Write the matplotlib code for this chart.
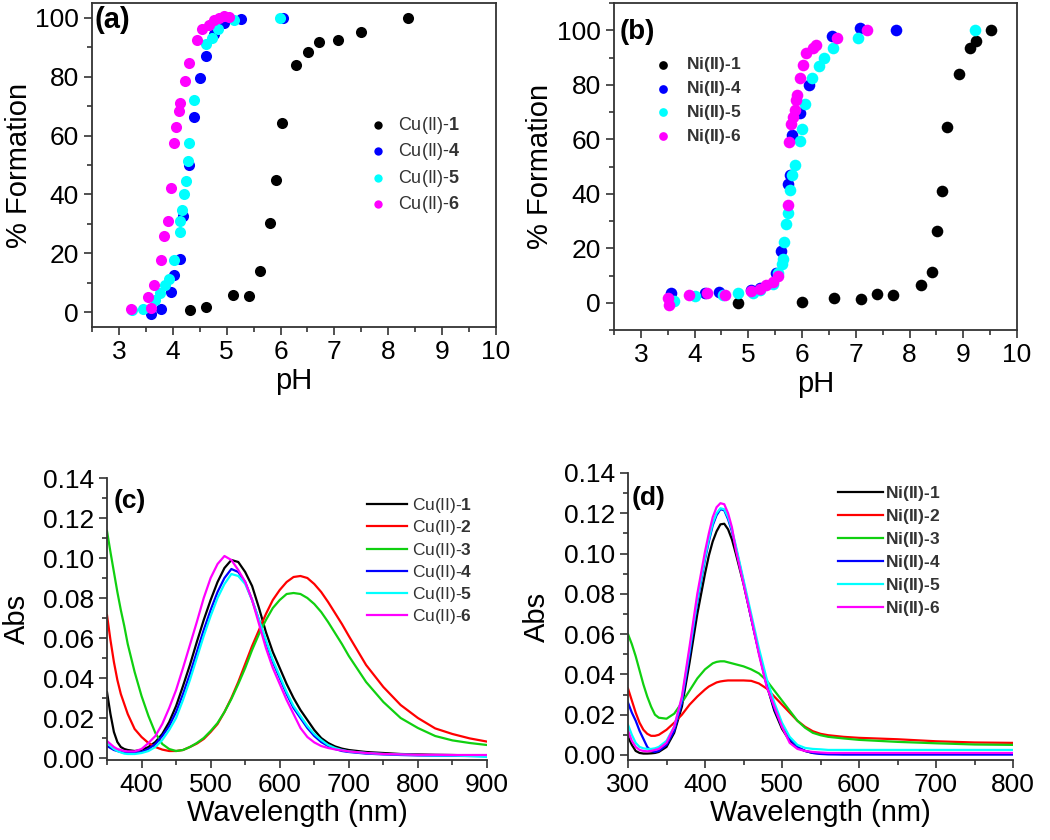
import numpy as np
import matplotlib
matplotlib.use("Agg")
import matplotlib.pyplot as plt
from matplotlib.ticker import MultipleLocator

plt.rcParams['font.family'] = ['Liberation Sans', 'DejaVu Sans']
plt.rcParams['mathtext.fontset'] = 'custom'
plt.rcParams['mathtext.rm'] = 'Liberation Sans'
plt.rcParams['mathtext.bf'] = 'Liberation Sans:bold'

# ---- (a) Cu(II) % formation vs pH
cu1_ph = [4.32, 4.61, 5.12, 5.42, 5.61, 5.80, 5.91, 6.03, 6.28, 6.51, 6.72, 7.07, 7.50, 8.37]
cu1_f = [0.7, 1.8, 5.7, 5.4, 13.9, 30.4, 44.8, 64.1, 83.9, 88.4, 91.7, 92.6, 95.1, 100]
cu4_ph = [3.59, 3.79, 3.97, 4.02, 4.13, 4.19, 4.30, 4.40, 4.50, 4.61, 4.76, 4.95, 5.26, 6.05]
cu4_f = [-0.5, 1.1, 6.8, 12.5, 18.1, 32.6, 50, 66.3, 79.5, 86.9, 94.4, 98.3, 99.7, 100]
cu5_ph = [3.25, 3.45, 3.67, 3.76, 3.85, 3.93, 4.03, 4.13, 4.14, 4.18, 4.20, 4.24, 4.28, 4.31,
          4.40, 4.62, 4.72, 4.84, 5.13, 5.99]
cu5_f = [0.7, 1.1, 4.3, 6.6, 9.1, 11.4, 17.9, 27.2, 30.9, 34.7, 40, 44.4, 51.5, 57.3,
         71.9, 91.2, 93, 96.3, 99.1, 100]
cu6_ph = [3.23, 3.54, 3.59, 3.66, 3.79, 3.83, 3.91, 3.96, 4.02, 4.06, 4.11, 4.14, 4.22, 4.31,
          4.45, 4.55, 4.67, 4.76, 4.86, 4.95, 5.04]
cu6_f = [1.1, 5.1, 1.5, 9.1, 17.9, 26, 30.9, 42.2, 57.3, 62.9, 68.2, 71.1, 78.5, 84.7,
         92.3, 96.3, 97.7, 99.2, 100, 100.6, 100.3]

# ---- (b) Ni(II) % formation vs pH
ni1_ph = [4.80, 6.00, 6.60, 7.09, 7.40, 7.70, 8.21, 8.41, 8.51, 8.61, 8.70, 8.92, 9.12, 9.24, 9.52]
ni1_f = [0, 0.4, 1.6, 1.4, 3.3, 2.7, 6.4, 11.3, 26.4, 40.9, 64.5, 84, 93.6, 96.1, 100]
ni4_ph = [3.56, 4.20, 4.46, 5.05, 5.22, 5.52, 5.60, 5.74, 5.78, 5.82, 5.97, 6.13, 6.55, 7.08, 7.75]
ni4_f = [3.4, 3.5, 3.9, 4.5, 5.5, 11, 19.1, 43.7, 46.8, 61.6, 69.6, 80, 97.9, 101, 100]
ni5_ph = [3.62, 4.01, 4.52, 4.80, 5.08, 5.21, 5.46, 5.55, 5.63, 5.64, 5.66, 5.71, 5.74, 5.77,
          5.82, 5.86, 5.96, 5.99, 6.05, 6.19, 6.31, 6.40, 6.57, 7.04, 9.21]
ni5_f = [0.6, 2.5, 2.7, 3.4, 3.7, 4.7, 6.8, 10.8, 14.2, 16, 22.4, 28.9, 33, 41.3,
         46.8, 50.5, 59.4, 63.7, 72.9, 82.3, 86.8, 89.9, 93.6, 97.3, 100]
ni6_ph = [3.50, 3.52, 3.90, 4.24, 4.56, 5.05, 5.21, 5.33, 5.46, 5.55, 5.73, 5.76, 5.80, 5.83,
          5.86, 5.89, 5.91, 5.96, 6.01, 6.08, 6.20, 6.25, 6.65, 7.20]
ni6_f = [1.8, -0.9, 2.8, 3.4, 2.7, 4.3, 4.9, 6.4, 7.6, 9.9, 36, 58.9, 65.5, 68.3,
         70.8, 74.5, 76.4, 82.3, 87.1, 91.7, 93.6, 94.5, 97.3, 100]

# ---- (c) Cu(II) spectra
wl_c = [350, 355, 360, 365, 370, 375, 380, 390, 400, 410, 420, 430, 440, 450, 460, 470, 480, 490,
        500, 510, 520, 530, 540, 550, 560, 570, 580, 590, 600, 610, 620, 630, 640, 650, 660, 670,
        680, 690, 700, 725, 750, 775, 800, 825, 850, 875, 900]
abs_cu1 = [0.033, 0.022, 0.013, 0.008, 0.0055, 0.0045, 0.004, 0.0035, 0.004, 0.0055, 0.008, 0.012,
           0.018, 0.026, 0.036, 0.0465, 0.058, 0.069, 0.079, 0.088, 0.095, 0.099, 0.098, 0.093,
           0.086, 0.075, 0.063, 0.053, 0.045, 0.037, 0.030, 0.024, 0.019, 0.014, 0.010, 0.0075,
           0.0058, 0.0047, 0.004, 0.003, 0.0025, 0.002, 0.0018, 0.0016, 0.0015, 0.0013, 0.0012]
abs_cu2 = [0.0715, 0.059, 0.048, 0.039, 0.032, 0.027, 0.022, 0.0145, 0.0105, 0.0075, 0.0055, 0.0042,
           0.0035, 0.0035, 0.004, 0.0055, 0.0072, 0.0095, 0.013, 0.017, 0.023, 0.030, 0.038, 0.047,
           0.056, 0.064, 0.072, 0.079, 0.084, 0.088, 0.0905, 0.091, 0.090, 0.087, 0.083, 0.078,
           0.0725, 0.067, 0.061, 0.0465, 0.0355, 0.0265, 0.020, 0.0148, 0.012, 0.0098, 0.0082]
abs_cu3 = [0.1135, 0.103, 0.093, 0.083, 0.074, 0.066, 0.057, 0.043, 0.031, 0.021, 0.0125, 0.007,
           0.0045, 0.0035, 0.004, 0.0055, 0.0075, 0.010, 0.0135, 0.0175, 0.023, 0.0295, 0.037, 0.045,
           0.054, 0.062, 0.069, 0.075, 0.079, 0.082, 0.0825, 0.082, 0.080, 0.077, 0.073, 0.068,
           0.0625, 0.057, 0.051, 0.038, 0.028, 0.020, 0.015, 0.011, 0.0088, 0.0075, 0.0065]
abs_cu4 = [0.006, 0.005, 0.004, 0.0035, 0.003, 0.0027, 0.0025, 0.0025, 0.003, 0.0045, 0.007, 0.011,
           0.016, 0.023, 0.032, 0.042, 0.053, 0.064, 0.074, 0.083, 0.090, 0.0945, 0.093, 0.088,
           0.079, 0.069, 0.058, 0.048, 0.040, 0.032, 0.025, 0.020, 0.015, 0.011, 0.008, 0.006,
           0.0045, 0.0035, 0.003, 0.0022, 0.0018, 0.0015, 0.0013, 0.0012, 0.0011, 0.001, 0.001]
abs_cu5 = [0.008, 0.006, 0.0045, 0.0035, 0.0028, 0.0022, 0.002, 0.002, 0.0025, 0.0035, 0.0055, 0.009,
           0.014, 0.020, 0.029, 0.039, 0.050, 0.061, 0.071, 0.080, 0.087, 0.092, 0.091, 0.087,
           0.079, 0.069, 0.059, 0.049, 0.041, 0.033, 0.026, 0.021, 0.016, 0.012, 0.009, 0.0065,
           0.005, 0.004, 0.0033, 0.0025, 0.002, 0.0018, 0.0015, 0.0013, 0.0012, 0.001, 0.0005]
abs_cu6 = [0.0085, 0.007, 0.0055, 0.0045, 0.004, 0.0035, 0.0033, 0.0033, 0.0045, 0.0075, 0.011, 0.017,
           0.025, 0.034, 0.045, 0.0565, 0.068, 0.080, 0.090, 0.097, 0.101, 0.099, 0.094, 0.088,
           0.079, 0.067, 0.055, 0.045, 0.037, 0.029, 0.022, 0.015, 0.0105, 0.0078, 0.006, 0.005,
           0.0043, 0.0038, 0.0033, 0.0025, 0.002, 0.0018, 0.0016, 0.0016, 0.0015, 0.0015, 0.0015]

# ---- (d) Ni(II) spectra
wl_d = [300, 305, 310, 315, 320, 325, 330, 335, 340, 350, 360, 370, 380, 390, 400, 405, 410, 415,
        420, 425, 430, 435, 440, 450, 460, 470, 480, 490, 500, 510, 520, 530, 540, 550, 560, 580,
        600, 650, 700, 750, 800]
abs_ni1 = [0.009, 0.005, 0.002, 0.001, 0.0007, 0.0007, 0.0008, 0.001, 0.0015, 0.004, 0.011, 0.024,
           0.046, 0.070, 0.090, 0.099, 0.106, 0.111, 0.1145, 0.1148, 0.112, 0.107, 0.100, 0.085,
           0.068, 0.051, 0.035, 0.022, 0.013, 0.007, 0.0035, 0.002, 0.001, 0.0008, 0.0006, 0.0005,
           0.0005, 0.0005, 0.0005, 0.0005, 0.0005]
abs_ni2 = [0.033, 0.027, 0.021, 0.016, 0.0125, 0.0105, 0.0095, 0.0095, 0.010, 0.0125, 0.016, 0.020,
           0.025, 0.029, 0.0325, 0.034, 0.035, 0.036, 0.0365, 0.0368, 0.037, 0.037, 0.037, 0.037,
           0.0368, 0.0355, 0.033, 0.029, 0.025, 0.021, 0.017, 0.014, 0.0118, 0.0105, 0.0098, 0.009,
           0.0085, 0.0078, 0.0068, 0.0062, 0.006]
abs_ni3 = [0.060, 0.055, 0.049, 0.042, 0.035, 0.029, 0.024, 0.020, 0.0185, 0.018, 0.0205, 0.026,
           0.032, 0.038, 0.0425, 0.044, 0.0455, 0.0462, 0.0465, 0.0465, 0.046, 0.0455, 0.045, 0.044,
           0.0425, 0.0405, 0.037, 0.032, 0.027, 0.022, 0.017, 0.0135, 0.011, 0.0098, 0.009, 0.0082,
           0.0075, 0.0065, 0.0058, 0.0052, 0.005]
abs_ni4 = [0.026, 0.021, 0.017, 0.012, 0.008, 0.004, 0.002, 0.0015, 0.002, 0.005, 0.012, 0.026,
           0.050, 0.076, 0.097, 0.106, 0.114, 0.119, 0.122, 0.1215, 0.117, 0.111, 0.103, 0.086,
           0.068, 0.051, 0.035, 0.023, 0.014, 0.008, 0.004, 0.002, 0.001, 0.0005, 0.0003, 0.0002,
           0.0002, 0.0002, 0.0002, 0.0002, 0.0002]
abs_ni5 = [0.015, 0.010, 0.006, 0.004, 0.0033, 0.003, 0.003, 0.0033, 0.004, 0.007, 0.014, 0.028,
           0.052, 0.077, 0.098, 0.107, 0.115, 0.120, 0.1225, 0.122, 0.118, 0.112, 0.104, 0.087,
           0.070, 0.053, 0.038, 0.026, 0.016, 0.009, 0.005, 0.0035, 0.003, 0.0028, 0.0025, 0.0025,
           0.0025, 0.0025, 0.0025, 0.0025, 0.0025]
abs_ni6 = [0.012, 0.007, 0.004, 0.0025, 0.002, 0.0018, 0.002, 0.0025, 0.003, 0.006, 0.014, 0.029,
           0.054, 0.080, 0.101, 0.110, 0.118, 0.123, 0.125, 0.1245, 0.120, 0.113, 0.102, 0.085,
           0.068, 0.050, 0.034, 0.024, 0.014, 0.006, 0.003, 0.002, 0.0015, 0.0012, 0.001, 0.001,
           0.001, 0.001, 0.001, 0.001, 0.001]

colors = ['black', '#ff0000', '#10d010', '#0000ff', '#00ffff', '#ff00ff']
sp_col = '#333333'

fig = plt.figure(figsize=(10.5, 8.4), dpi=100)
W, H = 1050, 840


def box(l, t, r, b):
    return [l / W, 1 - b / H, (r - l) / W, (b - t) / H]


def style(ax, full):
    for s in ax.spines.values():
        s.set_linewidth(1.3)
        s.set_color(sp_col)
    if not full:
        ax.spines['top'].set_visible(False)
        ax.spines['right'].set_visible(False)
    ax.tick_params(which='both', direction='out', top=False, right=False,
                   width=1.2, color=sp_col, labelsize=19)
    ax.tick_params(which='major', length=6)
    ax.tick_params(which='minor', length=3.5)


# (a)
ax = fig.add_axes(box(92, 3, 496, 327))
style(ax, True)
ax.scatter(cu1_ph, cu1_f, s=64, color=colors[0], lw=0, label=r'Cu(II)-$\mathbf{1}$')
ax.scatter(cu4_ph, cu4_f, s=64, color=colors[3], lw=0, label=r'Cu(II)-$\mathbf{4}$')
ax.scatter(cu5_ph, cu5_f, s=64, color=colors[4], lw=0, label=r'Cu(II)-$\mathbf{5}$')
ax.scatter(cu6_ph, cu6_f, s=64, color=colors[5], lw=0, label=r'Cu(II)-$\mathbf{6}$')
ax.set_xlim(2.5, 10)
ax.set_ylim(-5, 105)
ax.xaxis.set_major_locator(MultipleLocator(1))
ax.xaxis.set_minor_locator(MultipleLocator(0.5))
ax.yaxis.set_major_locator(MultipleLocator(20))
ax.yaxis.set_minor_locator(MultipleLocator(10))
ax.set_xlabel('pH', fontsize=21, labelpad=2)
ax.set_ylabel('% Formation', fontsize=21)
ax.yaxis.set_label_coords(-0.145, 0.5)
ax.text(0.005, 0.99, '(a)', transform=ax.transAxes, fontsize=21, fontweight='bold',
        va='top', ha='left')
ax.legend(loc='upper left', bbox_to_anchor=(0.685, 0.655), frameon=False, fontsize=13,
          handlelength=1, handletextpad=0.6, labelspacing=0.3, borderpad=0, borderaxespad=0,
          markerscale=0.75, labelcolor='#333333')

# (b)
ax = fig.add_axes(box(614, 3, 1017, 330))
style(ax, True)
ax.scatter(ni1_ph, ni1_f, s=70, color=colors[0], lw=0, label=r'Ni(II)-$\mathbf{1}$')
ax.scatter(ni4_ph, ni4_f, s=70, color=colors[3], lw=0, label=r'Ni(II)-$\mathbf{4}$')
ax.scatter(ni5_ph, ni5_f, s=70, color=colors[4], lw=0, label=r'Ni(II)-$\mathbf{5}$')
ax.scatter(ni6_ph, ni6_f, s=70, color=colors[5], lw=0, label=r'Ni(II)-$\mathbf{6}$')
ax.set_xlim(2.5, 10)
ax.set_ylim(-10, 110)
ax.xaxis.set_major_locator(MultipleLocator(1))
ax.xaxis.set_minor_locator(MultipleLocator(0.5))
ax.yaxis.set_major_locator(MultipleLocator(20))
ax.yaxis.set_minor_locator(MultipleLocator(10))
ax.set_xlabel('pH', fontsize=21, labelpad=2)
ax.set_ylabel('% Formation', fontsize=21)
ax.yaxis.set_label_coords(-0.15, 0.5)
ax.text(0.015, 0.95, '(b)', transform=ax.transAxes, fontsize=20, fontweight='bold',
        va='top', ha='left')
ax.legend(loc='upper left', bbox_to_anchor=(0.1, 0.84), frameon=False,
          handlelength=1, handletextpad=0.8, labelspacing=0.28, borderpad=0,
          borderaxespad=0, markerscale=0.75, labelcolor='#333333',
          prop={'weight': 'bold', 'size': 12.5})

# (c)
ax = fig.add_axes(box(107, 478, 487, 760))
style(ax, False)
cu_spec = [abs_cu1, abs_cu2, abs_cu3, abs_cu4, abs_cu5, abs_cu6]
for i, a in enumerate(cu_spec):
    ax.plot(wl_c, a, color=colors[i], lw=1.6, label=r'Cu(II)-$\mathbf{%d}$' % (i + 1))
ax.set_xlim(350, 900)
ax.set_ylim(-0.001, 0.14)
ax.xaxis.set_major_locator(MultipleLocator(100))
ax.xaxis.set_minor_locator(MultipleLocator(50))
ax.yaxis.set_major_locator(MultipleLocator(0.02))
ax.yaxis.set_minor_locator(MultipleLocator(0.01))
ax.yaxis.set_major_formatter(plt.FormatStrFormatter('%.2f'))
ax.set_xlabel('Wavelength (nm)', fontsize=21, labelpad=1)
ax.set_ylabel('Abs', fontsize=21)
ax.yaxis.set_label_coords(-0.2, 0.5)
ax.text(0.018, 0.96, '(c)', transform=ax.transAxes, fontsize=19, fontweight='bold',
        va='top', ha='left')
ax.legend(loc='upper left', bbox_to_anchor=(0.685, 0.935), frameon=False, fontsize=12.5,
          handlelength=2.3, handletextpad=0.3, labelspacing=0.18, borderpad=0,
          borderaxespad=0, labelcolor='#333333')

# (d)
ax = fig.add_axes(box(628, 473, 1013, 760))
style(ax, False)
ni_spec = [abs_ni1, abs_ni2, abs_ni3, abs_ni4, abs_ni5, abs_ni6]
for i, a in enumerate(ni_spec):
    ax.plot(wl_d, a, color=colors[i], lw=1.6, label=r'Ni(II)-$\mathbf{%d}$' % (i + 1))
ax.set_xlim(300, 800)
ax.set_ylim(-0.0025, 0.14)
ax.xaxis.set_major_locator(MultipleLocator(100))
ax.xaxis.set_minor_locator(MultipleLocator(50))
ax.yaxis.set_major_locator(MultipleLocator(0.02))
ax.yaxis.set_minor_locator(MultipleLocator(0.01))
ax.yaxis.set_major_formatter(plt.FormatStrFormatter('%.2f'))
ax.set_xlabel('Wavelength (nm)', fontsize=21, labelpad=1)
ax.set_ylabel('Abs', fontsize=21)
ax.yaxis.set_label_coords(-0.2, 0.5)
ax.text(0.01, 0.955, '(d)', transform=ax.transAxes, fontsize=19, fontweight='bold',
        va='top', ha='left')
ax.legend(loc='upper left', bbox_to_anchor=(0.545, 0.96), frameon=False,
          handlelength=2.6, handletextpad=0.1, labelspacing=0.22, borderpad=0,
          borderaxespad=0, labelcolor='#333333', prop={'weight': 'bold', 'size': 12.5})

fig.savefig('out.png', dpi=100)
